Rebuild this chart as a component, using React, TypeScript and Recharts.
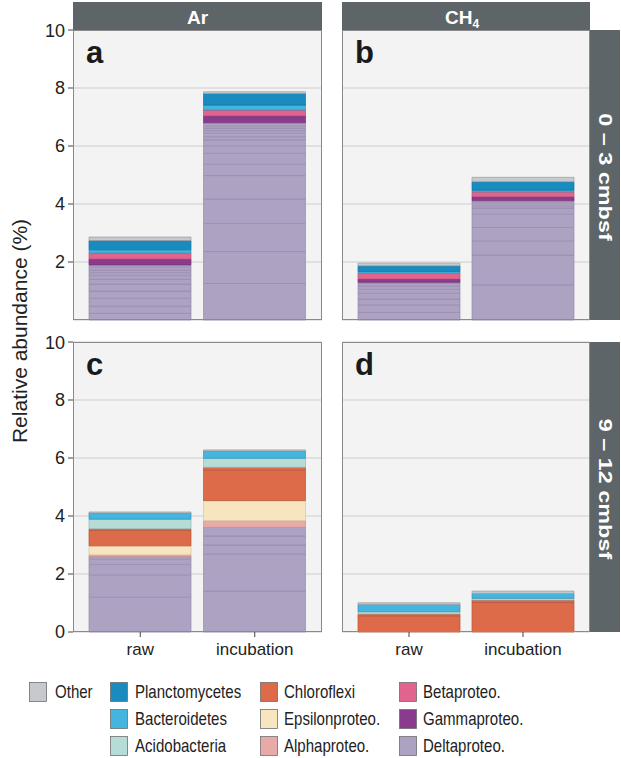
import React from "react";
import { BarChart, Bar, XAxis, YAxis, CartesianGrid } from "recharts";

const FONT = "'Liberation Sans', Arial, Helvetica, sans-serif";

const samples = ["raw", "incubation"];
const panelLetters = ["a", "b", "c", "d"];
const yTicks = [0, 2, 4, 6, 8, 10];
const depthLabels = ["0 – 3 cmbsf", "9 – 12 cmbsf"];

// legend order (top of stack first)
const taxa = [
  "Other",
  "Planctomycetes",
  "Bacteroidetes",
  "Acidobacteria",
  "Chloroflexi",
  "Epsilonproteo.",
  "Alphaproteo.",
  "Betaproteo.",
  "Gammaproteo.",
  "Deltaproteo.",
];
const taxonColors = [
  "#c6c9ce",
  "#1a8bbf",
  "#43b5de",
  "#b5dcd7",
  "#dd6a48",
  "#f6e5bf",
  "#e7aaa8",
  "#e1648f",
  "#8a3b8e",
  "#aea2c3",
];
const taxonStrokes = [
  "#9a9da3",
  "#16739e",
  "#3593b5",
  "#93b9b4",
  "#b9553a",
  "#d9c59d",
  "#c88e8c",
  "#bd4f75",
  "#722f76",
  "#968bad",
];

// OTU slices per taxon: [panel a,b,c,d][raw, incubation] -> values bottom to top (%)
const other = [[[0.12], [0.06]], [[0.09], [0.15]], [[0.04], [0.04]], [[0.06], [0.08]]];
const planctomycetes = [[[0.32], [0.4]], [[0.2], [0.29]], [[], []], [[], []]];
const bacteroidetes = [[[0.11], [0.17]], [[0.06], [0.06]], [[0.21], [0.25]], [[0.25], [0.17]]];
const acidobacteria = [[[], []], [[], []], [[0.33], [0.31]], [[0.08], [0.06]]];
const chloroflexi = [[[], []], [[], []], [[0.53, 0.06], [1.05, 0.1]], [[0.56, 0.06], [1.02, 0.08]]];
const epsilonproteo = [[[], []], [[], []], [[0.31], [0.69]], [[], []]];
const alphaproteo = [[[], []], [[], []], [[0.06], [0.23]], [[], []]];
const betaproteo = [[[0.21], [0.2]], [[0.2], [0.17]], [[], []], [[], []]];
const gammaproteo = [[[0.2], [0.24]], [[0.11], [0.14]], [[], []], [[], []]];
const deltaproteo = [
  [
    [0.23, 0.25, 0.27, 0.25, 0.24, 0.17, 0.12, 0.1, 0.09, 0.1, 0.08],
    [1.26, 1.1, 0.97, 0.84, 0.81, 0.39, 0.38, 0.26, 0.2, 0.11, 0.12, 0.09, 0.08, 0.08, 0.11],
  ],
  [
    [0.26, 0.26, 0.2, 0.2, 0.14, 0.11, 0.09, 0.04],
    [1.21, 1.03, 0.49, 0.46, 0.46, 0.21, 0.08, 0.09, 0.08],
  ],
  [
    [1.2, 0.77, 0.36, 0.18, 0.09],
    [1.41, 1.28, 0.31, 0.31, 0.3],
  ],
  [[], []],
];

const taxonSegments = [
  other,
  planctomycetes,
  bacteroidetes,
  acidobacteria,
  chloroflexi,
  epsilonproteo,
  alphaproteo,
  betaproteo,
  gammaproteo,
  deltaproteo,
];

const segCounts = taxonSegments.map((t) =>
  Math.max(...t.flat().map((s) => s.length))
);

function buildRows(p: number) {
  return samples.map((s, si) => {
    const row: Record<string, string | number> = { sample: s };
    taxa.forEach((_, ti) => {
      for (let k = 0; k < segCounts[ti]; k++) {
        row[`t${ti}_${k}`] = taxonSegments[ti][p][si][k] ?? 0;
      }
    });
    return row;
  });
}

// stack bottom -> top
const stackOrder = taxa.map((_, i) => taxa.length - 1 - i);

function Panel({ p }: { p: number }) {
  const col = p % 2;
  const row = Math.floor(p / 2);
  const left = col === 0 ? 20 : 342;
  const width = col === 0 ? 302 : 248;
  const top = row === 0 ? 20 : 332;
  const height = row === 0 ? 310 : 340;
  return (
    <div style={{ position: "absolute", left, top }}>
      <BarChart
        width={width}
        height={height}
        data={buildRows(p)}
        margin={{ top: 10, right: 0, left: 0, bottom: row === 0 ? 10 : 0 }}
        barSize={102}
      >
        <CartesianGrid vertical={false} stroke="#cdcdcd" fill="#f3f3f3" />
        <XAxis
          dataKey="sample"
          hide={row === 0}
          height={40}
          padding={{ left: 10, right: 10 }}
          axisLine={false}
          tickLine={{ stroke: "#444" }}
          tickSize={5}
          tickMargin={6}
          interval={0}
          tick={{ fontSize: 17, fill: "#222", fontFamily: FONT }}
        />
        <YAxis
          type="number"
          domain={[0, 10]}
          ticks={yTicks}
          hide={col === 1}
          width={col === 0 ? 53 : 0}
          axisLine={false}
          tickLine={{ stroke: "#444" }}
          tickSize={5}
          tickMargin={3}
          tick={{ fontSize: 18, fill: "#222", fontFamily: FONT }}
        />
        {stackOrder.map((ti) =>
          Array.from({ length: segCounts[ti] }, (_, k) => (
            <Bar
              key={`t${ti}_${k}`}
              dataKey={`t${ti}_${k}`}
              stackId="s"
              fill={taxonColors[ti]}
              stroke={taxonStrokes[ti]}
              strokeWidth={0.7}
              isAnimationActive={false}
            />
          ))
        )}
      </BarChart>
    </div>
  );
}

const plotX = [73, 342];
const plotW = [249, 248];
const plotY = [30, 342];
const plotH = 290;

function Overlay() {
  const legendCols = [
    { sx: 29, tx: 55, items: [0] },
    { sx: 110, tx: 135, items: [1, 2, 3] },
    { sx: 260, tx: 284, items: [4, 5, 6] },
    { sx: 399, tx: 423, items: [7, 8, 9] },
  ];
  const rowTop = [682, 709, 736];
  return (
    <svg
      width={621}
      height={758}
      style={{ position: "absolute", left: 0, top: 0, pointerEvents: "none" }}
      fontFamily={FONT}
    >
      {/* column strips */}
      {[0, 1].map((c) => (
        <rect key={`cs${c}`} x={plotX[c]} y={2} width={plotW[c]} height={28} fill="#5d6568" />
      ))}
      <text x={plotX[0] + plotW[0] / 2} y={24} textAnchor="middle" fill="#fff" fontSize={19} fontWeight="bold">
        Ar
      </text>
      <text x={plotX[1] + plotW[1] / 2 - 4} y={24} textAnchor="middle" fill="#fff" fontSize={19} fontWeight="bold">
        CH<tspan fontSize={12} dy={4}>4</tspan>
      </text>
      {/* row strips */}
      {[0, 1].map((r) => (
        <g key={`rs${r}`}>
          <rect x={590} y={plotY[r]} width={30} height={plotH} fill="#5d6568" />
          <text
            transform={`translate(605,${plotY[r] + plotH / 2 + 2}) rotate(90) scale(1.3,1)`}
            textAnchor="middle"
            dominantBaseline="central"
            fill="#fff"
            fontSize={18}
            fontWeight="bold"
          >
            {depthLabels[r]}
          </text>
        </g>
      ))}
      {/* panel borders and letters */}
      {panelLetters.map((l, p) => {
        const c = p % 2;
        const r = Math.floor(p / 2);
        return (
          <g key={l}>
            <rect x={plotX[c] + 0.5} y={plotY[r] + 0.5} width={plotW[c] - 1} height={plotH - 1} fill="none" stroke="#8a8a8a" />
            <text x={plotX[c] + 13} y={plotY[r] + 33} fontSize={31} fontWeight="bold" fill="#1a1a1a">
              {l}
            </text>
          </g>
        );
      })}
      {/* y label */}
      <text
        transform="translate(19,331) rotate(-90)"
        textAnchor="middle"
        dominantBaseline="central"
        fontSize={21}
        fill="#222"
      >
        Relative abundance (%)
      </text>
      {/* legend */}
      {legendCols.map((col) =>
        col.items.map((ti, ri) => (
          <g key={`lg${ti}`}>
            <rect x={col.sx + 0.5} y={rowTop[ri] + 0.5} width={17} height={19} fill={taxonColors[ti]} stroke="#6f6f6f" strokeWidth={0.8} />
            <text
              transform={`translate(${col.tx},${rowTop[ri] + 16}) scale(0.86,1)`}
              fontSize={17.5}
              fill="#222"
            >
              {taxa[ti]}
            </text>
          </g>
        ))
      )}
    </svg>
  );
}

export default function App() {
  return (
    <div
      style={{
        position: "absolute",
        left: 0,
        top: 0,
        width: 621,
        height: 758,
        background: "#fff",
        fontFamily: FONT,
      }}
    >
      {[0, 1, 2, 3].map((p) => (
        <Panel key={p} p={p} />
      ))}
      <Overlay />
    </div>
  );
}
